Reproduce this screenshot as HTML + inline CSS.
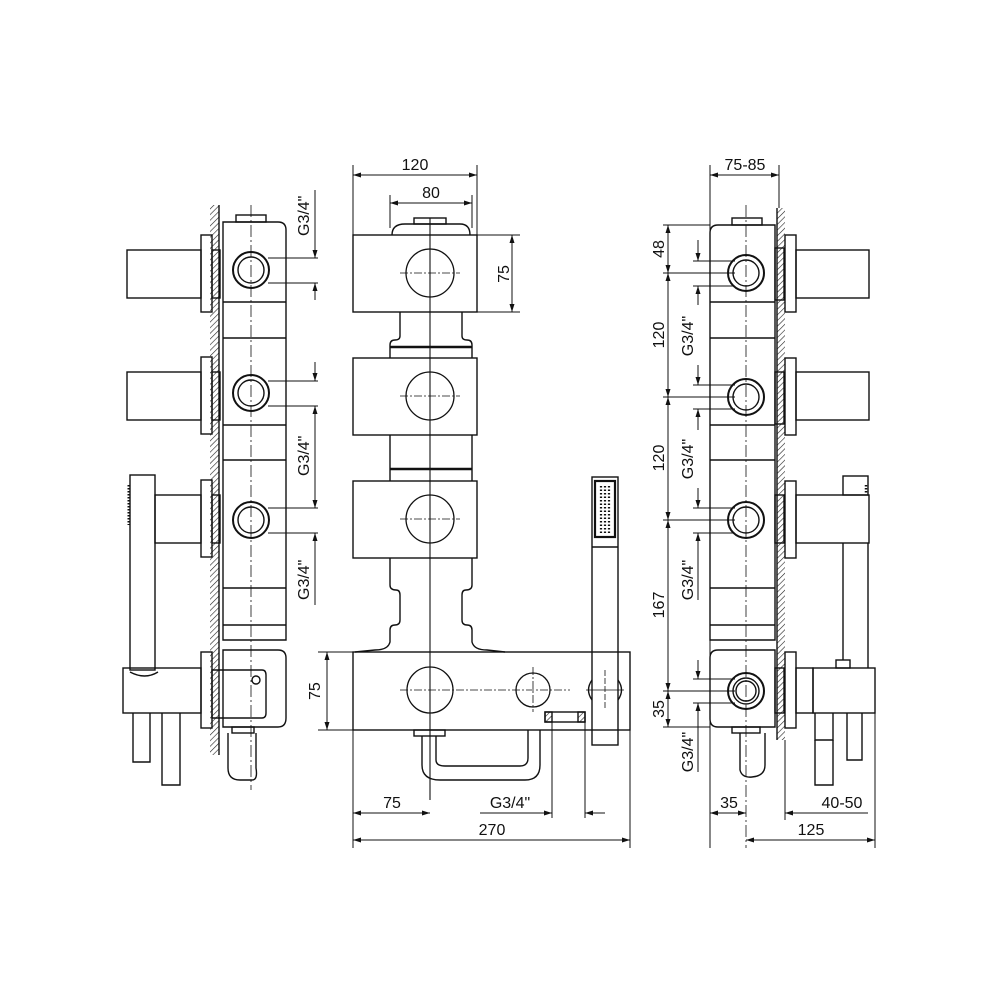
<!DOCTYPE html>
<html><head><meta charset="utf-8"><style>
html,body{margin:0;padding:0;background:#fff}
svg{display:block}
text{font-family:"Liberation Sans",sans-serif;font-size:16px;fill:#111}
</style></head><body>
<svg width="1000" height="1000" viewBox="0 0 1000 1000" xmlns="http://www.w3.org/2000/svg">
<defs>
<pattern id="h" width="4" height="4" patternUnits="userSpaceOnUse" patternTransform="rotate(45)">
<line x1="0" y1="0" x2="0" y2="4" stroke="#222" stroke-width="1.2"/></pattern>
<marker id="a" markerWidth="8" markerHeight="6" refX="8" refY="3" orient="auto-start-reverse" markerUnits="userSpaceOnUse"><path d="M0,0.5 L8,3 L0,5.5z" fill="#111"/></marker>
</defs>
<g fill="none" stroke="#111" stroke-width="1.4">

<!-- ============ LEFT VIEW ============ -->
<rect x="210" y="205" width="9" height="550" fill="url(#h)" stroke="none"/>
<line x1="219" y1="205" x2="219" y2="755"/>
<path d="M223,222 H278 Q286,222 286,230 V640 H223 Z"/>
<path d="M223,650 H278 Q286,650 286,658 V718 Q286,727 278,727 H223 Z"/>
<rect x="236" y="215" width="30" height="7"/>
<line x1="251" y1="205" x2="251" y2="790" stroke-dasharray="12,3,2,3" stroke-width="0.8"/>
<g>
<circle cx="251" cy="270" r="18" stroke-width="2"/><circle cx="251" cy="270" r="13"/>
<circle cx="251" cy="393" r="18" stroke-width="2"/><circle cx="251" cy="393" r="13"/>
<circle cx="251" cy="520" r="18" stroke-width="2"/><circle cx="251" cy="520" r="13"/>
</g>
<line x1="223" y1="302" x2="286" y2="302"/><line x1="223" y1="338" x2="286" y2="338"/>
<line x1="223" y1="425" x2="286" y2="425"/><line x1="223" y1="460" x2="286" y2="460"/>
<line x1="223" y1="588" x2="286" y2="588"/><line x1="223" y1="625" x2="286" y2="625"/>
<rect x="201" y="235" width="11" height="77"/><rect x="212" y="250" width="8" height="48"/>
<rect x="127" y="250" width="74" height="48"/>
<rect x="201" y="357" width="11" height="77"/><rect x="212" y="372" width="8" height="48"/>
<rect x="127" y="372" width="74" height="48"/>
<rect x="201" y="480" width="11" height="77"/><rect x="212" y="495" width="8" height="48"/>
<rect x="155" y="495" width="46" height="48"/>
<rect x="130" y="475" width="25" height="195"/>
<line x1="129" y1="485" x2="129" y2="525" stroke-width="3" stroke-dasharray="1.5,1.5"/>
<rect x="201" y="652" width="11" height="76"/>
<path d="M212,670 H262 Q266,670 266,675 V713 Q266,718 262,718 H212 Z"/>
<circle cx="256" cy="680" r="4"/>
<rect x="123" y="668" width="78" height="45"/>
<path d="M133,713 V762 H150 V713"/>
<path d="M162,713 V785 H180 V713"/>
<path d="M130,672 Q145,680 158,672"/>
<rect x="232" y="727" width="22" height="6"/>
<path d="M228,733 V768 Q228,780 240,780 H252 Q258,780 256,768 V733"/>

<g stroke-width="1">
<line x1="268" y1="258" x2="318" y2="258"/><line x1="268" y1="283" x2="318" y2="283"/>
<line x1="268" y1="381" x2="318" y2="381"/><line x1="268" y1="406" x2="318" y2="406"/>
<line x1="268" y1="508" x2="318" y2="508"/><line x1="268" y1="533" x2="318" y2="533"/>
<line x1="315" y1="190" x2="315" y2="258" marker-end="url(#a)"/>
<line x1="315" y1="300" x2="315" y2="283" marker-end="url(#a)"/>
<line x1="315" y1="362" x2="315" y2="381" marker-end="url(#a)"/>
<line x1="315" y1="490" x2="315" y2="406" marker-end="url(#a)"/>
<line x1="315" y1="490" x2="315" y2="508" marker-end="url(#a)"/>
<line x1="315" y1="605" x2="315" y2="533" marker-end="url(#a)"/>
</g>
</g>
<text transform="translate(309,236) rotate(-90)">G3/4"</text>
<text transform="translate(309,476) rotate(-90)">G3/4"</text>
<text transform="translate(309,600) rotate(-90)">G3/4"</text>
<text transform="translate(320,700) rotate(-90)">75</text>

<g fill="none" stroke="#111" stroke-width="1.4">
<!-- ============ MIDDLE VIEW ============ -->
<line x1="430" y1="218" x2="430" y2="800" stroke-width="1.1"/>
<path d="M392,235 Q392,224 405,224 H460 Q470,224 470,235"/>
<rect x="414" y="218" width="32" height="6"/>
<rect x="353" y="235" width="124" height="77"/>
<rect x="353" y="358" width="124" height="77"/>
<rect x="353" y="481" width="124" height="77"/>
<rect x="353" y="652" width="277" height="78"/>
<path d="M400,312 V336 Q400,340 395,340 Q390,340 390,345 V358"/>
<path d="M462,312 V336 Q462,340 467,340 Q472,340 472,345 V358"/>
<line x1="390" y1="347" x2="472" y2="347" stroke-width="2.5"/>
<line x1="390" y1="435" x2="390" y2="481"/><line x1="472" y1="435" x2="472" y2="481"/>
<line x1="390" y1="469" x2="472" y2="469" stroke-width="2.5"/>
<path d="M390,558 V585 Q390,590 396,590 Q400,590 400,595 V620 Q400,625 395,625 Q390,625 390,630 V642 Q388,650 375,650 L355,652"/>
<path d="M472,558 V585 Q472,590 466,590 Q462,590 462,595 V620 Q462,625 467,625 Q472,625 472,630 V642 Q474,650 487,650 L505,652"/>
<g stroke-width="1.3">
<circle cx="430" cy="273" r="24"/><circle cx="430" cy="396" r="24"/><circle cx="430" cy="519" r="24"/>
<circle cx="430" cy="690" r="23"/><circle cx="533" cy="690" r="17"/>
</g>
<g stroke-width="0.8" stroke-dasharray="8,2,2,2">
<line x1="400" y1="273" x2="460" y2="273"/><line x1="400" y1="396" x2="460" y2="396"/><line x1="400" y1="519" x2="460" y2="519"/>
<line x1="400" y1="690" x2="570" y2="690"/><line x1="533" y1="667" x2="533" y2="712"/>
</g>
<rect x="592" y="477" width="26" height="268"/>
<rect x="595" y="481" width="20" height="56" stroke-width="2.2"/>
<line x1="592" y1="547" x2="618" y2="547"/>
<g stroke-width="2.2" stroke-dasharray="1.5,2">
<line x1="601" y1="486" x2="601" y2="534"/><line x1="605" y1="486" x2="605" y2="534"/><line x1="609" y1="486" x2="609" y2="534"/>
</g>
<path d="M592,680 Q585,690 592,700"/><path d="M618,680 Q625,690 618,700"/>
<line x1="586" y1="690" x2="624" y2="690" stroke-width="0.8"/>
<line x1="605" y1="670" x2="605" y2="710" stroke-width="0.8" stroke-dasharray="6,2"/>
<rect x="545" y="712" width="40" height="10"/>
<rect x="545" y="712" width="7" height="10" fill="url(#h)"/><rect x="578" y="712" width="7" height="10" fill="url(#h)"/>
<rect x="414" y="730" width="31" height="6"/>
<path d="M422,736 V765 Q422,780 440,780 H525 Q540,780 540,765 V730"/>
<path d="M436,736 V760 Q436,766 445,766 H520 Q528,766 528,758 V730"/>
<g stroke-width="1">
<line x1="353" y1="165" x2="353" y2="235"/><line x1="477" y1="165" x2="477" y2="235"/>
<line x1="353" y1="175" x2="477" y2="175" marker-start="url(#a)" marker-end="url(#a)"/>
<line x1="390" y1="195" x2="390" y2="228"/><line x1="472" y1="195" x2="472" y2="228"/>
<line x1="390" y1="203" x2="472" y2="203" marker-start="url(#a)" marker-end="url(#a)"/>
<line x1="477" y1="235" x2="520" y2="235"/><line x1="477" y1="312" x2="520" y2="312"/>
<line x1="512" y1="235" x2="512" y2="312" marker-start="url(#a)" marker-end="url(#a)"/>
<line x1="318" y1="652" x2="353" y2="652"/><line x1="318" y1="730" x2="353" y2="730"/>
<line x1="327" y1="652" x2="327" y2="730" marker-start="url(#a)" marker-end="url(#a)"/>
<line x1="353" y1="730" x2="353" y2="848"/><line x1="630" y1="730" x2="630" y2="848"/>
<line x1="353" y1="813" x2="430" y2="813" marker-start="url(#a)" marker-end="url(#a)"/>
<line x1="480" y1="813" x2="552" y2="813" marker-end="url(#a)"/>
<line x1="605" y1="813" x2="585" y2="813" marker-end="url(#a)"/>
<line x1="552" y1="722" x2="552" y2="818"/><line x1="585" y1="722" x2="585" y2="818"/>
<line x1="353" y1="840" x2="630" y2="840" marker-start="url(#a)" marker-end="url(#a)"/>
</g>
</g>
<text x="415" y="170" text-anchor="middle">120</text>
<text x="431" y="198" text-anchor="middle">80</text>
<text transform="translate(509,274) rotate(-90)" text-anchor="middle">75</text>
<text x="392" y="808" text-anchor="middle">75</text>
<text x="510" y="808" text-anchor="middle">G3/4"</text>
<text x="492" y="835" text-anchor="middle">270</text>

<g fill="none" stroke="#111" stroke-width="1.4">
<!-- ============ RIGHT VIEW ============ -->
<rect x="777" y="208" width="8" height="532" fill="url(#h)" stroke="none"/>
<line x1="777" y1="208" x2="777" y2="740"/>
<path d="M718,225 H775 V640 H710 V233 Q710,225 718,225 Z"/>
<path d="M718,650 H775 V727 H718 Q710,727 710,719 V658 Q710,650 718,650 Z"/>
<rect x="732" y="218" width="30" height="7"/>
<line x1="746" y1="205" x2="746" y2="848" stroke-dasharray="12,3,2,3" stroke-width="0.8"/>
<circle cx="746" cy="273" r="18" stroke-width="2"/><circle cx="746" cy="273" r="13"/>
<circle cx="746" cy="397" r="18" stroke-width="2"/><circle cx="746" cy="397" r="13"/>
<circle cx="746" cy="520" r="18" stroke-width="2"/><circle cx="746" cy="520" r="13"/>
<circle cx="746" cy="691" r="18" stroke-width="2"/><circle cx="746" cy="691" r="13"/><circle cx="746" cy="691" r="10"/>
<line x1="710" y1="302" x2="775" y2="302"/><line x1="710" y1="338" x2="775" y2="338"/>
<line x1="710" y1="425" x2="775" y2="425"/><line x1="710" y1="460" x2="775" y2="460"/>
<line x1="710" y1="588" x2="775" y2="588"/><line x1="710" y1="625" x2="775" y2="625"/>
<rect x="775" y="248" width="9" height="52"/><rect x="785" y="235" width="11" height="77"/><rect x="796" y="250" width="73" height="48"/>
<rect x="775" y="372" width="9" height="52"/><rect x="785" y="358" width="11" height="77"/><rect x="796" y="372" width="73" height="48"/>
<rect x="775" y="495" width="9" height="48"/><rect x="785" y="481" width="11" height="77"/><rect x="796" y="495" width="73" height="48"/>
<rect x="843" y="476" width="25" height="19"/>
<line x1="866" y1="485" x2="866" y2="493" stroke-width="2.5" stroke-dasharray="1.5,1.5"/>
<line x1="843" y1="543" x2="843" y2="660"/><line x1="868" y1="543" x2="868" y2="668"/>
<rect x="836" y="660" width="14" height="8"/>
<rect x="775" y="668" width="9" height="45"/><rect x="785" y="652" width="11" height="76"/>
<rect x="796" y="668" width="17" height="45"/>
<rect x="813" y="668" width="62" height="45"/>
<path d="M815,713 V740 H833 V713"/><path d="M815,740 V785 H833 V740"/>
<path d="M847,713 V760 H862 V713"/>
<rect x="732" y="727" width="28" height="6"/>
<path d="M740,733 V770 Q742,778 752,777 Q765,776 765,765 V733"/>
<g stroke-width="1">
<line x1="710" y1="165" x2="710" y2="848"/><line x1="779" y1="165" x2="779" y2="208"/>
<line x1="710" y1="175" x2="779" y2="175" marker-start="url(#a)" marker-end="url(#a)"/>
<line x1="663" y1="225" x2="710" y2="225"/>
<line x1="663" y1="273" x2="735" y2="273"/><line x1="663" y1="397" x2="735" y2="397"/>
<line x1="663" y1="520" x2="735" y2="520"/><line x1="663" y1="691" x2="735" y2="691"/>
<line x1="663" y1="727" x2="710" y2="727"/>
<line x1="668" y1="225" x2="668" y2="273" marker-start="url(#a)" marker-end="url(#a)"/>
<line x1="668" y1="273" x2="668" y2="397" marker-start="url(#a)" marker-end="url(#a)"/>
<line x1="668" y1="397" x2="668" y2="520" marker-start="url(#a)" marker-end="url(#a)"/>
<line x1="668" y1="520" x2="668" y2="691" marker-start="url(#a)" marker-end="url(#a)"/>
<line x1="668" y1="691" x2="668" y2="727" marker-start="url(#a)" marker-end="url(#a)"/>
<line x1="693" y1="261" x2="735" y2="261"/><line x1="693" y1="286" x2="735" y2="286"/>
<line x1="693" y1="385" x2="735" y2="385"/><line x1="693" y1="409" x2="735" y2="409"/>
<line x1="693" y1="508" x2="735" y2="508"/><line x1="693" y1="533" x2="735" y2="533"/>
<line x1="693" y1="679" x2="735" y2="679"/><line x1="693" y1="703" x2="735" y2="703"/>
<line x1="698" y1="240" x2="698" y2="261" marker-end="url(#a)"/><line x1="698" y1="305" x2="698" y2="286" marker-end="url(#a)"/>
<line x1="698" y1="365" x2="698" y2="385" marker-end="url(#a)"/><line x1="698" y1="430" x2="698" y2="409" marker-end="url(#a)"/>
<line x1="698" y1="488" x2="698" y2="508" marker-end="url(#a)"/><line x1="698" y1="600" x2="698" y2="533" marker-end="url(#a)"/>
<line x1="698" y1="660" x2="698" y2="679" marker-end="url(#a)"/><line x1="698" y1="772" x2="698" y2="703" marker-end="url(#a)"/>
<line x1="785" y1="740" x2="785" y2="820"/><line x1="875" y1="713" x2="875" y2="848"/>
<line x1="710" y1="813" x2="746" y2="813" marker-start="url(#a)" marker-end="url(#a)"/>
<line x1="785" y1="813" x2="868" y2="813" marker-start="url(#a)"/>
<line x1="746" y1="840" x2="875" y2="840" marker-start="url(#a)" marker-end="url(#a)"/>
</g>
</g>
<text x="745" y="170" text-anchor="middle">75-85</text>
<text transform="translate(664,249) rotate(-90)" text-anchor="middle">48</text>
<text transform="translate(664,335) rotate(-90)" text-anchor="middle">120</text>
<text transform="translate(664,458) rotate(-90)" text-anchor="middle">120</text>
<text transform="translate(664,605) rotate(-90)" text-anchor="middle">167</text>
<text transform="translate(664,709) rotate(-90)" text-anchor="middle">35</text>
<text transform="translate(693,336) rotate(-90)" text-anchor="middle">G3/4"</text>
<text transform="translate(693,459) rotate(-90)" text-anchor="middle">G3/4"</text>
<text transform="translate(693,580) rotate(-90)" text-anchor="middle">G3/4"</text>
<text transform="translate(693,752) rotate(-90)" text-anchor="middle">G3/4"</text>
<text x="729" y="808" text-anchor="middle">35</text>
<text x="842" y="808" text-anchor="middle">40-50</text>
<text x="811" y="835" text-anchor="middle">125</text>
</svg>
</body></html>
